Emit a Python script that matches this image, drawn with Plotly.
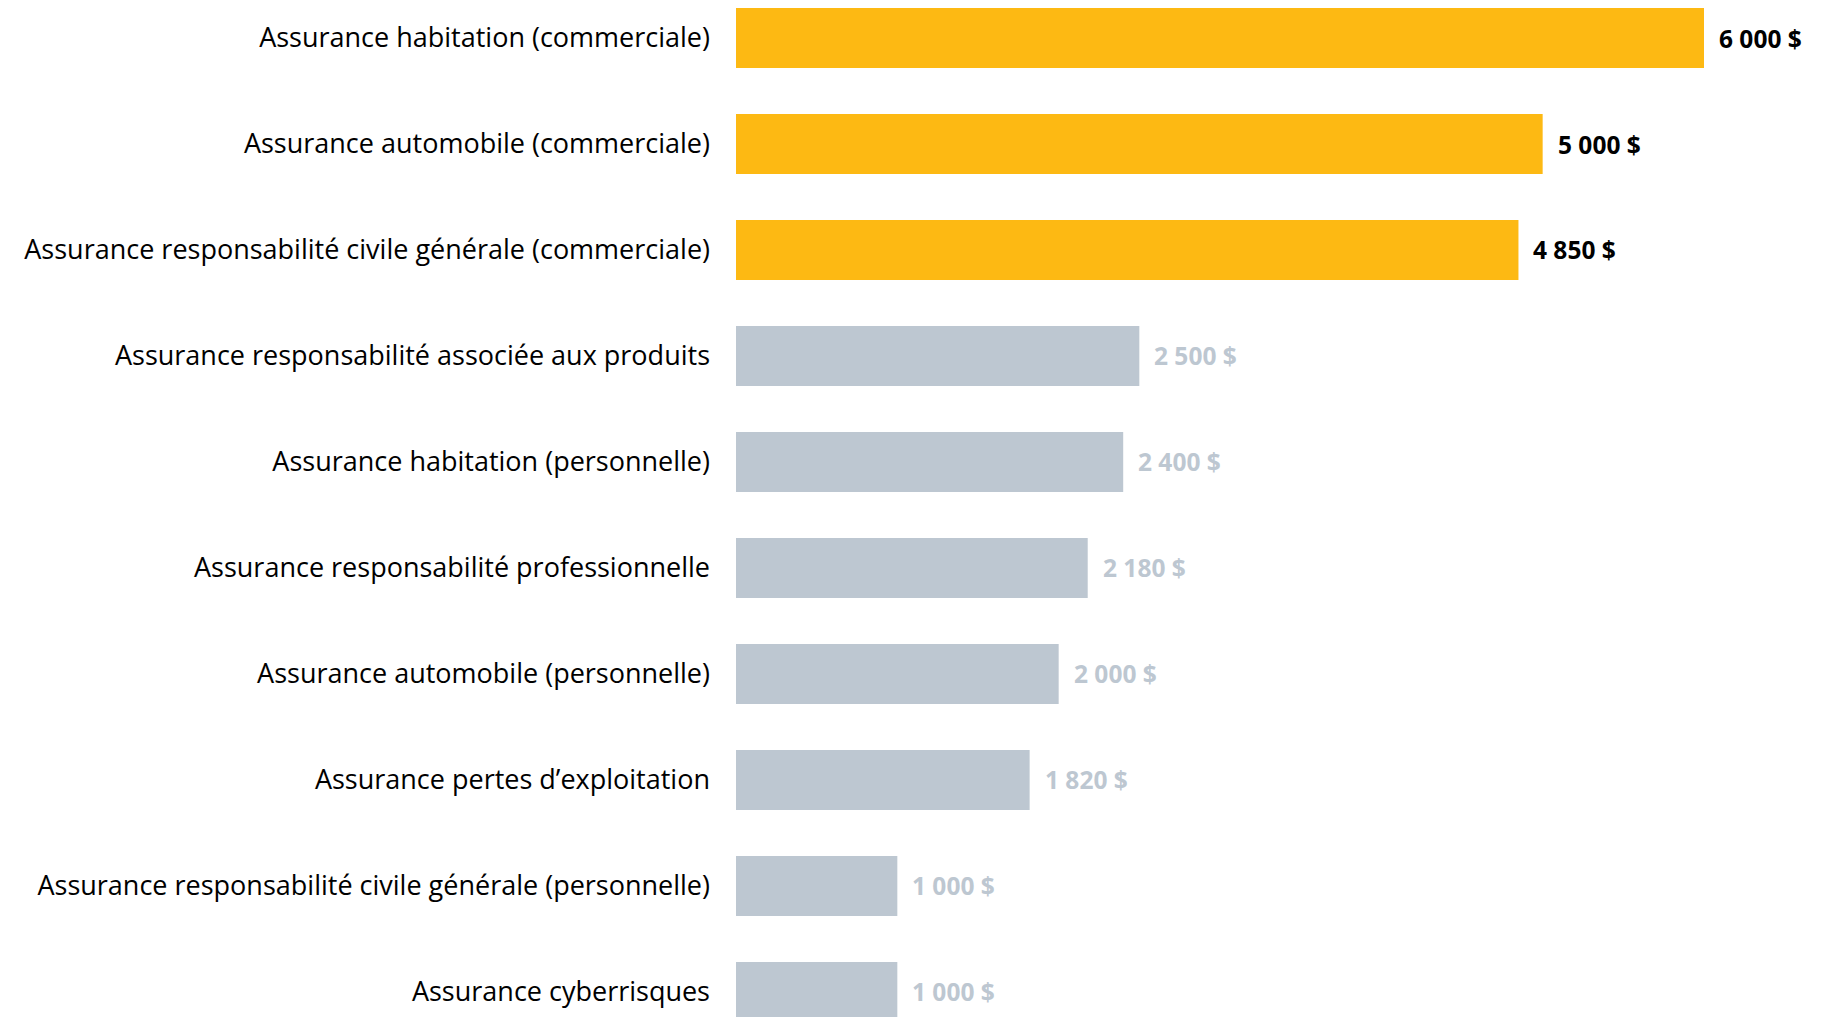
import plotly.graph_objects as go

categories = [
    "Assurance habitation (commerciale)",
    "Assurance automobile (commerciale)",
    "Assurance responsabilité civile générale (commerciale)",
    "Assurance responsabilité associée aux produits",
    "Assurance habitation (personnelle)",
    "Assurance responsabilité professionnelle",
    "Assurance automobile (personnelle)",
    "Assurance pertes d’exploitation",
    "Assurance responsabilité civile générale (personnelle)",
    "Assurance cyberrisques",
]
values = [6000, 5000, 4850, 2500, 2400, 2180, 2000, 1820, 1000, 1000]
value_labels = ["6 000 $", "5 000 $", "4 850 $", "2 500 $", "2 400 $",
                "2 180 $", "2 000 $", "1 820 $", "1 000 $", "1 000 $"]
highlight = [True, True, True, False, False, False, False, False, False, False]

YELLOW = "#FDB913"
GRAY = "#BDC7D1"
bar_colors = [YELLOW if h else GRAY for h in highlight]
label_colors = ["#000000" if h else "#BDC7D1" for h in highlight]

FONT = "Open Sans"

fig = go.Figure(go.Bar(
    x=values,
    y=categories,
    orientation="h",
    marker=dict(color=bar_colors, line=dict(width=0)),
    width=0.566,
    hoverinfo="skip",
))

for c, v, t, col in zip(categories, values, value_labels, label_colors):
    fig.add_annotation(
        x=v, y=c, text="<b>" + t + "</b>", showarrow=False,
        xanchor="left", yanchor="middle", xshift=13,
        font=dict(family=FONT, size=24.5, color=col),
    )

fig.update_layout(
    width=1832, height=1009,
    margin=dict(l=728, r=0, t=0, b=0),
    paper_bgcolor="white", plot_bgcolor="white",
    showlegend=False,
    font=dict(family=FONT, size=27, color="#000000"),
    xaxis=dict(range=[0, 6843], visible=False, showgrid=False, zeroline=False),
    yaxis=dict(
        type="category",
        range=[9.236, -0.283],
        showgrid=False, zeroline=False, showline=False,
        ticks="", ticklabelstandoff=25,
        tickfont=dict(family=FONT, size=27, color="#000000"),
        automargin=False,
    ),
)

fig.write_html("out.html")
